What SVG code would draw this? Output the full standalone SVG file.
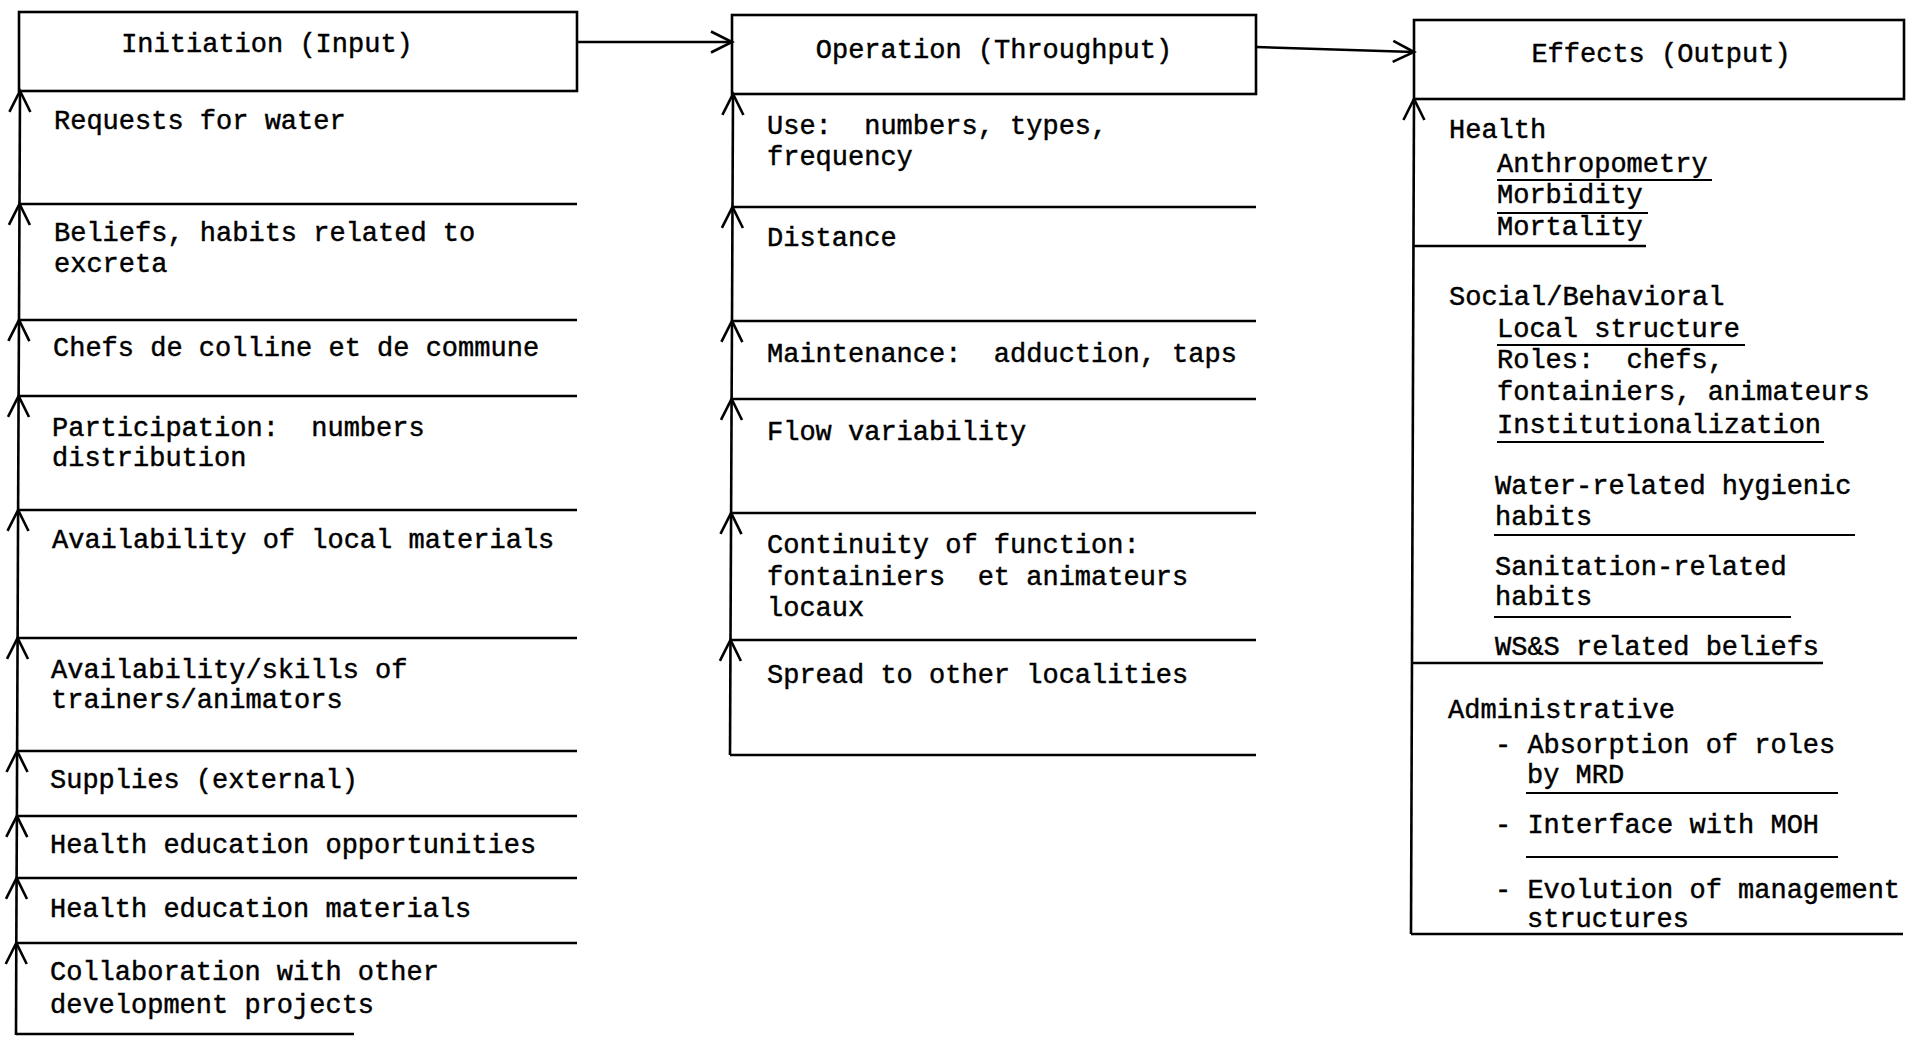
<svg xmlns="http://www.w3.org/2000/svg" width="1912" height="1037" viewBox="0 0 1912 1037" xml:space="preserve">
<style>
.t{font-family:"Liberation Mono","Courier New",monospace;font-size:27px;fill:#000;stroke:#000;stroke-width:0.45;white-space:pre}
.m{text-anchor:middle}
.b{fill:none;stroke:#000;stroke-width:2.6}
.l{stroke:#000;stroke-width:2.6;fill:none}
.u{stroke:#000;stroke-width:2.2;fill:none}
</style>
<defs>
<marker id="arr" markerUnits="userSpaceOnUse" orient="auto" markerWidth="40" markerHeight="40" refX="0" refY="0" viewBox="-30 -20 40 40" overflow="visible">
<path d="M-21,-10.5 L0,0 L-21,10.5" fill="none" stroke="#000" stroke-width="2.6"/>
</marker>
</defs>
<rect width="1912" height="1037" fill="#fff"/>

<g id="initiation">
<rect class="b" x="19" y="12" width="558" height="79"/>
<text class="t m" x="267" y="52">Initiation (Input)</text>
</g>
<g id="input-items">
<line class="l" x1="19.5" y1="204" x2="577" y2="204"/>
<line class="l" x1="19" y1="320" x2="577" y2="320"/>
<line class="l" x1="18.6" y1="396" x2="577" y2="396"/>
<line class="l" x1="18.1" y1="510" x2="577" y2="510"/>
<line class="l" x1="17.6" y1="638" x2="577" y2="638"/>
<line class="l" x1="17.1" y1="751" x2="577" y2="751"/>
<line class="l" x1="16.9" y1="816" x2="577" y2="816"/>
<line class="l" x1="16.6" y1="878" x2="577" y2="878"/>
<line class="l" x1="16.3" y1="943" x2="577" y2="943"/>
<line class="l" x1="16" y1="1034" x2="354" y2="1034"/>
<text class="t" x="54" y="129">Requests for water</text>
<text class="t" x="54" y="241">Beliefs, habits related to</text>
<text class="t" x="54" y="272">excreta</text>
<text class="t" x="53" y="356">Chefs de colline et de commune</text>
<text class="t" x="52" y="436">Participation:  numbers</text>
<text class="t" x="52" y="466">distribution</text>
<text class="t" x="52" y="548">Availability of local materials</text>
<text class="t" x="51" y="678">Availability/skills of</text>
<text class="t" x="51" y="708">trainers/animators</text>
<text class="t" x="50" y="788">Supplies (external)</text>
<text class="t" x="50" y="853">Health education opportunities</text>
<text class="t" x="50" y="917">Health education materials</text>
<text class="t" x="50" y="980">Collaboration with other</text>
<text class="t" x="50" y="1013">development projects</text>
</g>

<g id="operation">
<rect class="b" x="732" y="15" width="524" height="79"/>
<text class="t m" x="994" y="58">Operation (Throughput)</text>
</g>
<g id="throughput-items">
<line class="l" x1="732.5" y1="207" x2="1256" y2="207"/>
<line class="l" x1="732" y1="321" x2="1256" y2="321"/>
<line class="l" x1="731.6" y1="399" x2="1256" y2="399"/>
<line class="l" x1="731.1" y1="513" x2="1256" y2="513"/>
<line class="l" x1="730.5" y1="640" x2="1256" y2="640"/>
<line class="l" x1="730" y1="755" x2="1256" y2="755"/>
<text class="t" x="767" y="134">Use:  numbers, types,</text>
<text class="t" x="767" y="165">frequency</text>
<text class="t" x="767" y="246">Distance</text>
<text class="t" x="767" y="362">Maintenance:  adduction, taps</text>
<text class="t" x="767" y="440">Flow variability</text>
<text class="t" x="767" y="553">Continuity of function:</text>
<text class="t" x="767" y="585">fontainiers  et animateurs</text>
<text class="t" x="767" y="616">locaux</text>
<text class="t" x="767" y="683">Spread to other localities</text>
</g>

<g id="effects">
<rect class="b" x="1414" y="20" width="490" height="79"/>
<text class="t m" x="1661" y="62">Effects (Output)</text>
</g>
<g id="output-items">
<line class="l" x1="1414" y1="246" x2="1646" y2="246"/>
<line class="l" x1="1413" y1="663" x2="1823" y2="663"/>
<line class="l" x1="1411" y1="934" x2="1903" y2="934"/>
<line class="u" x1="1497" y1="180" x2="1712" y2="180"/>
<line class="u" x1="1497" y1="213" x2="1648" y2="213"/>
<line class="u" x1="1497" y1="345" x2="1745" y2="345"/>
<line class="u" x1="1497" y1="442" x2="1824" y2="442"/>
<line class="u" x1="1494" y1="535" x2="1855" y2="535"/>
<line class="u" x1="1494" y1="617" x2="1791" y2="617"/>
<line class="u" x1="1526" y1="793" x2="1838" y2="793"/>
<line class="u" x1="1526" y1="857" x2="1838" y2="857"/>
<text class="t" x="1449" y="138">Health</text>
<text class="t" x="1497" y="172">Anthropometry</text>
<text class="t" x="1497" y="203">Morbidity</text>
<text class="t" x="1497" y="235">Mortality</text>
<text class="t" x="1449" y="305">Social/Behavioral</text>
<text class="t" x="1497" y="337">Local structure</text>
<text class="t" x="1497" y="368">Roles:  chefs,</text>
<text class="t" x="1497" y="400">fontainiers, animateurs</text>
<text class="t" x="1497" y="433">Institutionalization</text>
<text class="t" x="1495" y="494">Water-related hygienic</text>
<text class="t" x="1495" y="525">habits</text>
<text class="t" x="1495" y="575">Sanitation-related</text>
<text class="t" x="1495" y="605">habits</text>
<text class="t" x="1495" y="655">WS&amp;S related beliefs</text>
<text class="t" x="1448" y="718">Administrative</text>
<text class="t" x="1495" y="753">- Absorption of roles</text>
<text class="t" x="1527" y="783">by MRD</text>
<text class="t" x="1495" y="833">- Interface with MOH</text>
<text class="t" x="1495" y="898">- Evolution of management</text>
<text class="t" x="1527" y="927">structures</text>
</g>

<g id="connectors">
<line class="l" x1="577" y1="42" x2="732" y2="42" marker-end="url(#arr)"/>
<line class="l" x1="1256" y1="47" x2="1414" y2="52" marker-end="url(#arr)"/>
<line class="l" x1="19.5" y1="204" x2="20" y2="91" marker-end="url(#arr)"/>
<line class="l" x1="19" y1="320" x2="19.5" y2="204" marker-end="url(#arr)"/>
<line class="l" x1="18.6" y1="396" x2="19" y2="320" marker-end="url(#arr)"/>
<line class="l" x1="18.1" y1="510" x2="18.6" y2="396" marker-end="url(#arr)"/>
<line class="l" x1="17.6" y1="638" x2="18.1" y2="510" marker-end="url(#arr)"/>
<line class="l" x1="17.1" y1="751" x2="17.6" y2="638" marker-end="url(#arr)"/>
<line class="l" x1="16.9" y1="816" x2="17.1" y2="751" marker-end="url(#arr)"/>
<line class="l" x1="16.6" y1="878" x2="16.9" y2="816" marker-end="url(#arr)"/>
<line class="l" x1="16.3" y1="943" x2="16.6" y2="878" marker-end="url(#arr)"/>
<line class="l" x1="16" y1="1035" x2="16.3" y2="943" marker-end="url(#arr)"/>
<line class="l" x1="732.5" y1="207" x2="733" y2="94" marker-end="url(#arr)"/>
<line class="l" x1="732" y1="321" x2="732.5" y2="207" marker-end="url(#arr)"/>
<line class="l" x1="731.6" y1="399" x2="732" y2="321" marker-end="url(#arr)"/>
<line class="l" x1="731.1" y1="513" x2="731.6" y2="399" marker-end="url(#arr)"/>
<line class="l" x1="730.5" y1="640" x2="731.1" y2="513" marker-end="url(#arr)"/>
<line class="l" x1="730" y1="755" x2="730.5" y2="640" marker-end="url(#arr)"/>
<line class="l" x1="1411" y1="934" x2="1414" y2="99" marker-end="url(#arr)"/>
</g>
</svg>
